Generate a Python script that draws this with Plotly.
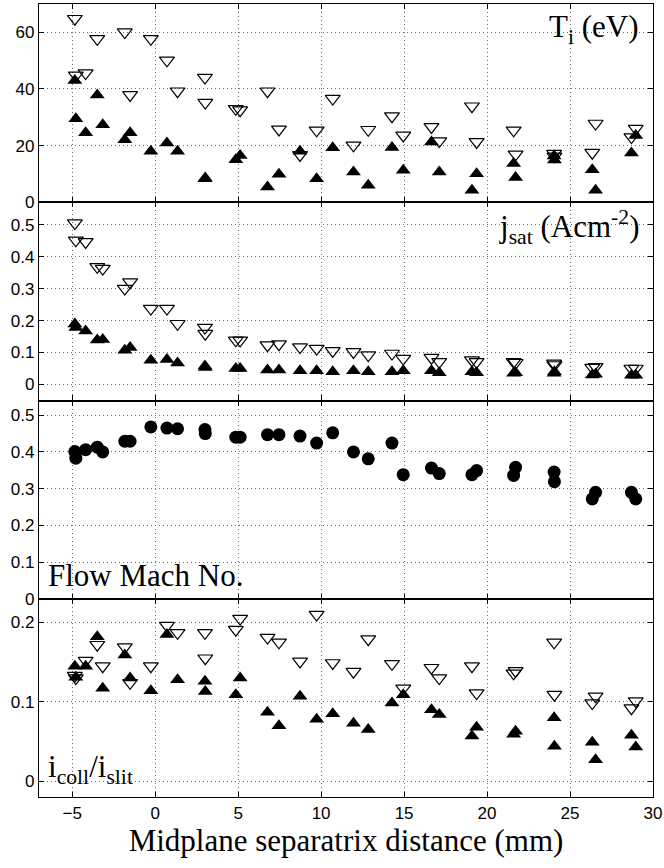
import plotly.graph_objects as go

# Midplane separatrix distance (mm)
X = [-4.84, -4.78, -4.19, -3.49, -3.16, -1.83, -1.51, -0.26, 0.71, 1.35, 3.0, 3.02,
     4.86, 5.12, 6.77, 7.46, 8.73, 9.73, 10.7, 11.95, 12.84, 14.27, 14.95, 16.65,
     17.12, 19.09, 19.37, 21.6, 21.72, 24.04, 24.06, 26.34, 26.54, 28.7, 28.96]

ti_open = [64.8, 44.8, 45.6, 57.7, None, 60.1, 37.9, 57.7, 50.1, 39.2, 44, 35.2,
           33, 32.5, 39.2, 25.7, 16.7, 25.4, 36.6, 20.1, 25.6, 30.4, 23.6, 26.6,
           21.6, 33.9, 21.3, 25.4, 16.9, 17.2, 16.2, 17.5, 27.8, 23, 26]
ti_fill = [43, 29.5, 24.5, 37.9, 27.4, 22.1, 24.5, 18, 20.9, 18, 8.3, 8.6,
           15, 16.5, 5.4, 9.9, 18, 8.3, 19.2, 10.7, 6, 19.3, 11.3, 21.3,
           10.7, 4.2, 10.1, 13.7, 8.7, 16.3, 14.9, 11.5, 4.2, 17.4, 23.6]

jsat_open = [0.505, 0.451, 0.446, 0.368, 0.3625, 0.30, 0.32, 0.2375, 0.2375, 0.19, 0.178, 0.159,
             0.138, 0.138, 0.123, 0.126, 0.117, 0.1125, 0.105, 0.102, 0.092, 0.097, 0.081, 0.084,
             0.071, 0.076, 0.071, 0.071, 0.068, 0.066, 0.061, 0.053, 0.055, 0.05, 0.05]
jsat_fill = [0.189, 0.178, 0.167, 0.139, 0.141, 0.107, 0.116, 0.076, 0.078, 0.0675, 0.058, 0.053,
             0.05, 0.05, 0.045, 0.045, 0.043, 0.043, 0.04, 0.043, 0.04, 0.04, 0.043, 0.043,
             0.037, 0.04, 0.037, 0.035, 0.037, 0.035, 0.04, 0.03, 0.032, 0.029, 0.029]

mach = [0.401, 0.383, 0.406, 0.413, 0.40, 0.429, 0.429, 0.468, 0.465, 0.463, 0.461, 0.45,
        0.44, 0.44, 0.447, 0.447, 0.443, 0.424, 0.452, 0.40, 0.381, 0.424, 0.338, 0.356,
        0.341, 0.338, 0.349, 0.336, 0.358, 0.345, 0.319, 0.272, 0.29, 0.29, 0.272]

icoll_open = [0.133, 0.13, 0.152, 0.172, 0.145, 0.169, 0.124, 0.145, 0.196, 0.187, 0.187, 0.155,
              0.191, 0.205, 0.181, 0.175, 0.151, 0.21, 0.149, 0.138, 0.179, 0.148, 0.117, 0.143,
              0.130, 0.145, 0.111, 0.136, 0.139, 0.175, 0.109, 0.0985, 0.107, 0.092, 0.101]
icoll_fill = [0.145, 0.131, 0.145, 0.182, 0.117, 0.159, 0.13, 0.114, 0.185, 0.128, 0.126, 0.113,
              0.109, 0.13, 0.087, 0.07, 0.107, 0.078, 0.085, 0.073, 0.065, 0.0985, 0.109, 0.09,
              0.084, 0.057, 0.068, 0.059, 0.063, 0.08, 0.044, 0.049, 0.027, 0.058, 0.043]

x_ticks = [-5, 0, 5, 10, 15, 20, 25, 30]
y_ticks = [[0, 20, 40, 60],
           [0, 0.1, 0.2, 0.3, 0.4, 0.5],
           [0, 0.1, 0.2, 0.3, 0.4, 0.5],
           [0, 0.1, 0.2]]
y_ranges = [[0, 70], [-0.05, 0.57], [0, 0.54], [-0.02, 0.23]]
domains = [[0.75, 1.0], [0.5, 0.75], [0.25, 0.5], [0.0, 0.25]]

SERIF = "Liberation Serif, Times New Roman, serif"
SANS = "Liberation Sans, Arial, sans-serif"

fig = go.Figure()

open_style = dict(symbol="triangle-down-open", size=13, color="black", line=dict(color="black", width=1.2))
fill_style = dict(symbol="triangle-up", size=13, color="black", line=dict(width=0))

def add(xs, ys, marker, panel):
    suf = "" if panel == 1 else str(panel)
    fig.add_trace(go.Scatter(x=xs, y=ys, mode="markers", marker=marker,
                             xaxis="x" + suf, yaxis="y" + suf, showlegend=False,
                             cliponaxis=False))

add(X, ti_open, open_style, 1)
add(X, ti_fill, fill_style, 1)
add(X, jsat_open, open_style, 2)
add(X, jsat_fill, fill_style, 2)
add(X, mach, dict(symbol="circle", size=13, color="black"), 3)
add(X, icoll_open, open_style, 4)
add(X, icoll_fill, fill_style, 4)

axis_common = dict(showline=True, linecolor="black", linewidth=1.3, mirror="ticks",
                   ticks="inside", ticklen=5, tickcolor="black", tickwidth=1,
                   showgrid=True, gridcolor="#6e6e6e", griddash="1px,3px", gridwidth=1,
                   zeroline=False, automargin=False,
                   tickfont=dict(family=SANS, size=17, color="black"))

layout = dict(width=664, height=868, plot_bgcolor="white", paper_bgcolor="white",
              margin=dict(l=39, r=11, t=4, b=71, autoexpand=False), showlegend=False)

for i in range(4):
    suf = "" if i == 0 else str(i + 1)
    xa = dict(axis_common, domain=[0, 1], anchor="y" + suf, range=[-7, 30],
              tickvals=x_ticks, showticklabels=(i == 3))
    if i == 3:
        xa["title"] = dict(text="Midplane separatrix distance (mm)",
                           font=dict(family=SERIF, size=31, color="black"), standoff=4)
    ya = dict(axis_common, domain=domains[i], anchor="x" + suf, range=y_ranges[i],
              tickvals=y_ticks[i])
    layout["xaxis" + suf] = xa
    layout["yaxis" + suf] = ya

fig.update_layout(**layout)

lab_font = dict(family=SERIF, size=31, color="black")
fig.add_annotation(text="T<sub>i</sub> (eV)", xref="x domain", yref="y domain",
                   x=0.98, y=0.985, xanchor="right", yanchor="top", showarrow=False, font=lab_font)
fig.add_annotation(text="j<sub>sat</sub> (Acm<sup>-2</sup>)", xref="x2 domain", yref="y2 domain",
                   x=0.98, y=0.995, xanchor="right", yanchor="top", showarrow=False, font=lab_font)
fig.add_annotation(text="Flow Mach No.", xref="x3 domain", yref="y3 domain",
                   x=0.012, y=0.02, xanchor="left", yanchor="bottom", showarrow=False, font=lab_font)
fig.add_annotation(text="i<sub>coll</sub>/i<sub>slit</sub>", xref="x4 domain", yref="y4 domain",
                   x=0.012, y=0.03, xanchor="left", yanchor="bottom", showarrow=False, font=lab_font)

fig.write_html("out.html", config={"displayModeBar": False},
               post_script="document.body.style.margin='0';document.body.style.padding='0';")
